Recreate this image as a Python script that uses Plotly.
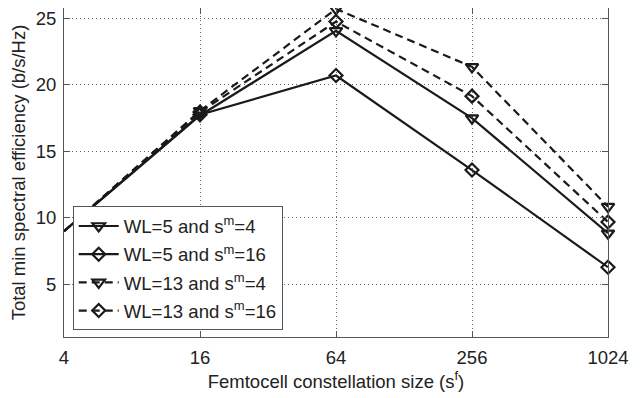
import plotly.graph_objects as go
import math

x_vals = [4, 16, 64, 256, 1024]
tick_labels = ["4", "16", "64", "256", "1024"]
wl5_sm4 = [9.0, 17.7, 24.05, 17.5, 8.85]
wl5_sm16 = [9.0, 17.75, 20.7, 13.6, 6.3]
wl13_sm4 = [9.0, 18.05, 25.7, 21.35, 10.85]
wl13_sm16 = [9.0, 17.95, 24.75, 19.15, 9.7]
names = ["WL=5 and s<sup>m</sup>=4", "WL=5 and s<sup>m</sup>=16",
         "WL=13 and s<sup>m</sup>=4", "WL=13 and s<sup>m</sup>=16"]

series = [wl5_sm4, wl5_sm16, wl13_sm4, wl13_sm16]
dashes = ["solid", "solid", "8px,5px", "8px,5px"]
symbols = ["triangle-down-open", "diamond-open", "triangle-down-open", "diamond-open"]
sizes = [11, 10, 11, 10]

ink = "#1a1a1a"
fig = go.Figure()
for i, (ys, nm, d, s, sz) in enumerate(zip(series, names, dashes, symbols, sizes)):
    fig.add_trace(go.Scatter(
        x=x_vals, y=ys, name=nm, mode="lines+markers", legendgroup=f"g{i}",
        line=dict(color=ink, width=2.2, dash=d),
        marker=dict(symbol=s, size=sz, color=ink, line=dict(width=2.2, color=ink)),
        cliponaxis=False,
    ))

fam = "Liberation Sans, Arial, sans-serif"
fig.update_layout(
    width=641, height=398,
    margin=dict(l=56, r=41, t=0, b=69),
    paper_bgcolor="white", plot_bgcolor="white",
    font=dict(family=fam, size=18, color="#222"),
    showlegend=True,
    legend=dict(x=0.016, y=0.02, xanchor="left", yanchor="bottom",
                bgcolor="white", bordercolor="#555", borderwidth=1,
                font=dict(family=fam, size=18.6, color="#222"),
                tracegroupgap=1, itemwidth=40),
    xaxis=dict(type="log", range=[math.log10(4), math.log10(1024)],
               tickvals=x_vals, ticktext=tick_labels,
               showgrid=True, gridcolor="#666", griddash="1px,3px", gridwidth=1,
               showline=True, linecolor="#555", linewidth=1, mirror="ticks",
               ticks="inside", ticklen=6, tickcolor="#555", zeroline=False,
               ticklabelstandoff=4, tickfont=dict(size=18.5), ticklabeloverflow="allow",
               title=dict(text="Femtocell constellation size (s<sup>f</sup>)", standoff=4,
                          font=dict(size=18.5))),
    yaxis=dict(range=[1.06, 25.77], tickvals=[5, 10, 15, 20, 25],
               showgrid=True, gridcolor="#666", griddash="1px,3px", gridwidth=1,
               showline=True, linecolor="#555", linewidth=1, mirror="ticks",
               ticks="inside", ticklen=6, tickcolor="#555", zeroline=False,
               ticklabelstandoff=3, tickfont=dict(size=18.5), ticklabeloverflow="allow",
               title=dict(text="Total min spectral efficiency (b/s/Hz)", standoff=8,
                          font=dict(size=18.5))),
)
fig.write_html("out.html")
